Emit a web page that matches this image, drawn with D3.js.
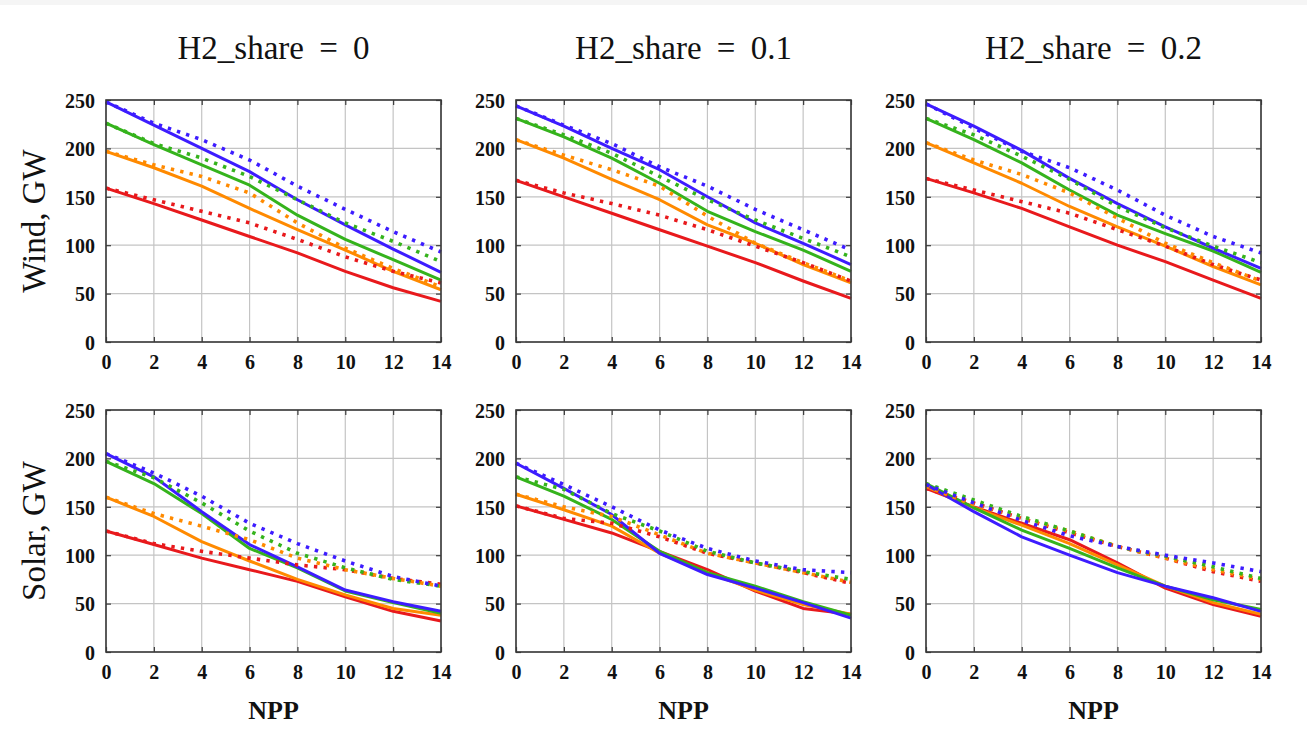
<!DOCTYPE html>
<html>
<head>
<meta charset="utf-8">
<script src="https://cdn.jsdelivr.net/npm/d3@7/dist/d3.min.js"></script>
<style>
  html, body { margin: 0; padding: 0; background: #fff; }
  svg { display: block; }
</style>
</head>
<body>
<svg id="chart" width="1307" height="748"></svg>
<script>
// NPP values on the x axis
const npp = [0, 2, 4, 6, 8, 10, 12, 14];
const xTicks = [0, 2, 4, 6, 8, 10, 12, 14];
const yTicks = [0, 50, 100, 150, 200, 250];
const h2Shares = ["0", "0.1", "0.2"];
const rowLabels = ["Wind, GW", "Solar, GW"];
const seriesColors = ["#e8191c", "#ff8a00", "#35b31c", "#3d1cff"];

// each list: [red, orange, green, blue]
const wind0Solid = [
  [159, 143, 126, 109, 92, 73, 56, 42],
  [197, 180, 161, 138, 116, 95, 73, 54],
  [226, 204, 183, 162, 131, 106, 85, 64],
  [248, 224, 200, 176, 147, 121, 96, 72]
];
const wind0Dotted = [
  [159, 147, 135, 123, 106, 88, 73, 61],
  [197, 183, 171, 154, 123, 97, 76, 57],
  [226, 205, 190, 171, 147, 123, 104, 83],
  [248, 226, 209, 188, 161, 137, 114, 93]
];
const wind1Solid = [
  [167, 150, 133, 116, 99, 82, 63, 45],
  [209, 190, 168, 147, 121, 102, 80, 61],
  [231, 212, 190, 164, 135, 114, 95, 73],
  [244, 223, 200, 178, 150, 123, 102, 80]
];
const wind1Dotted = [
  [167, 154, 143, 131, 116, 99, 82, 63],
  [209, 193, 178, 161, 130, 102, 82, 63],
  [231, 214, 195, 171, 147, 126, 107, 88],
  [244, 224, 205, 181, 161, 137, 116, 95]
];
const wind2Solid = [
  [169, 154, 138, 119, 100, 83, 64, 45],
  [206, 185, 164, 140, 119, 99, 78, 59],
  [231, 209, 185, 157, 131, 112, 94, 72],
  [246, 223, 198, 169, 143, 119, 97, 76]
];
const wind2Dotted = [
  [169, 157, 145, 133, 116, 99, 80, 64],
  [206, 188, 173, 154, 128, 102, 82, 63],
  [231, 214, 192, 168, 140, 118, 99, 82],
  [246, 221, 197, 180, 157, 131, 109, 92]
];
const solar0Solid = [
  [125, 111, 97, 85, 73, 57, 42, 32],
  [160, 140, 114, 94, 75, 59, 45, 38],
  [197, 174, 143, 107, 87, 63, 51, 40],
  [205, 181, 145, 111, 88, 64, 52, 42]
];
const solar0Dotted = [
  [125, 112, 104, 97, 90, 85, 76, 70],
  [160, 143, 130, 116, 97, 85, 76, 68],
  [197, 180, 154, 125, 102, 87, 75, 68],
  [205, 185, 161, 133, 112, 94, 78, 68]
];
const solar1Solid = [
  [151, 137, 123, 104, 85, 63, 45, 39],
  [163, 147, 130, 102, 82, 64, 49, 39],
  [181, 161, 137, 104, 82, 68, 52, 38],
  [195, 169, 142, 102, 80, 66, 51, 35]
];
const solar1Dotted = [
  [151, 138, 133, 119, 102, 92, 82, 71],
  [163, 150, 140, 121, 102, 92, 82, 72],
  [181, 168, 143, 125, 104, 92, 83, 75],
  [195, 173, 150, 126, 107, 94, 85, 82]
];
const solar2Solid = [
  [169, 150, 133, 116, 92, 66, 49, 37],
  [171, 149, 131, 112, 90, 68, 51, 39],
  [174, 149, 126, 107, 87, 68, 54, 44],
  [173, 145, 119, 100, 82, 68, 56, 42]
];
const solar2Dotted = [
  [169, 154, 138, 123, 109, 97, 83, 73],
  [171, 152, 138, 125, 109, 97, 85, 75],
  [174, 157, 140, 125, 109, 99, 88, 76],
  [173, 154, 136, 120, 109, 100, 92, 83]
];

const panels = [
  [ {solid: wind0Solid, dotted: wind0Dotted}, {solid: wind1Solid, dotted: wind1Dotted}, {solid: wind2Solid, dotted: wind2Dotted} ],
  [ {solid: solar0Solid, dotted: solar0Dotted}, {solid: solar1Solid, dotted: solar1Dotted}, {solid: solar2Solid, dotted: solar2Dotted} ]
];

const svg = d3.select("#chart");
const serif = "'Liberation Serif', 'DejaVu Serif', serif";

// light strip along the top edge
svg.append("rect").attr("x", 0).attr("y", 0).attr("width", 1307).attr("height", 5).attr("fill", "#f5f5f5");

const colLeft = [106, 516, 926];
const panelW = 335;
const rowTop = [100, 410];
const panelH = 242;

const gridColor = "#c4c4c4";
const frameColor = "#3a3a3a";

panels.forEach((row, r) => {
  row.forEach((panel, c) => {
    const x0 = colLeft[c], y0 = rowTop[r];
    const x = d3.scaleLinear().domain([0, 14]).range([x0, x0 + panelW]);
    const y = d3.scaleLinear().domain([0, 250]).range([y0 + panelH, y0]);
    const g = svg.append("g");

    // grid
    g.selectAll(".vg").data(xTicks).join("line")
      .attr("x1", d => x(d)).attr("x2", d => x(d))
      .attr("y1", y0).attr("y2", y0 + panelH)
      .attr("stroke", gridColor).attr("stroke-width", 1.2);
    g.selectAll(".hg").data(yTicks).join("line")
      .attr("x1", x0).attr("x2", x0 + panelW)
      .attr("y1", d => y(d)).attr("y2", d => y(d))
      .attr("stroke", gridColor).attr("stroke-width", 1.2);

    // axes with inward tick marks
    const axisStyle = sel => {
      sel.select(".domain").remove();
      sel.selectAll(".tick line").attr("stroke", frameColor).attr("stroke-width", 1.2);
      sel.selectAll(".tick text")
        .attr("font-family", serif).attr("font-weight", "bold")
        .attr("font-size", 20).attr("fill", "#111");
    };
    g.append("g").attr("transform", `translate(0,${y0 + panelH})`)
      .call(d3.axisBottom(x).tickValues(xTicks).tickSize(-5).tickPadding(13))
      .call(axisStyle);
    g.append("g").attr("transform", `translate(${x0},0)`)
      .call(d3.axisLeft(y).tickValues(yTicks).tickSize(-5).tickPadding(11))
      .call(axisStyle)
      .call(s => s.selectAll(".tick text").attr("dy", "0.36em"));
    g.append("g").attr("transform", `translate(0,${y0})`)
      .call(d3.axisTop(x).tickValues(xTicks).tickSize(-5).tickFormat(""))
      .call(axisStyle);
    g.append("g").attr("transform", `translate(${x0 + panelW},0)`)
      .call(d3.axisRight(y).tickValues(yTicks).tickSize(-5).tickFormat(""))
      .call(axisStyle);

    const line = d3.line().x((d, i) => x(npp[i])).y(d => y(d));

    panel.solid.forEach((vals, k) => {
      g.append("path").attr("d", line(vals)).attr("fill", "none")
        .attr("stroke", seriesColors[k]).attr("stroke-width", 3)
        .attr("stroke-linejoin", "round");
    });
    panel.dotted.forEach((vals, k) => {
      g.append("path").attr("d", line(vals)).attr("fill", "none")
        .attr("stroke", seriesColors[k]).attr("stroke-width", 3.6)
        .attr("stroke-dasharray", "3.4 6.2");
    });

    // frame
    g.append("rect").attr("x", x0).attr("y", y0).attr("width", panelW).attr("height", panelH)
      .attr("fill", "none").attr("stroke", frameColor).attr("stroke-width", 1.6);

    if (r === 0) {
      g.append("text").attr("x", x0 + panelW / 2).attr("y", 59)
        .attr("text-anchor", "middle").attr("font-family", serif)
        .attr("font-size", 33).attr("fill", "#111")
        .attr("word-spacing", "7px")
        .text(`H2_share = ${h2Shares[c]}`);
    }
    if (r === 1) {
      g.append("text").attr("x", x0 + panelW / 2).attr("y", 719)
        .attr("text-anchor", "middle").attr("font-family", serif)
        .attr("font-weight", "bold").attr("font-size", 26).attr("fill", "#111")
        .text("NPP");
    }
    if (c === 0) {
      g.append("text")
        .attr("transform", `translate(45,${y0 + panelH / 2}) rotate(-90)`)
        .attr("text-anchor", "middle").attr("font-family", serif)
        .attr("font-size", 33).attr("fill", "#111")
        .text(rowLabels[r]);
    }
  });
});
</script>
</body>
</html>
